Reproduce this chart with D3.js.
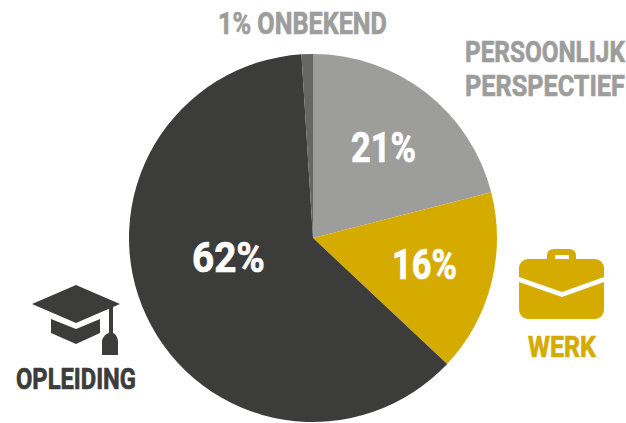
<!DOCTYPE html>
<html>
<head>
<meta charset="utf-8">
<script src="https://cdn.jsdelivr.net/npm/d3@7"></script>
<style>
body { margin: 0; background: #fff; }
text { font-family: "Roboto", "Liberation Sans", sans-serif; font-weight: 700; }
</style>
</head>
<body>
<div id="chart"></div>
<script>
var categories = ["Persoonlijk perspectief", "Werk", "Opleiding", "Onbekend"];
var values = [21, 16, 62, 1];
var pctLabels = ["21%", "16%", "62%", ""];
var colors = ["#9d9d9c", "#d6ab00", "#3c3c3b", "#666665"];

var width = 626, height = 423;
var cx = 313, cy = 238, radius = 184;

var svg = d3.select("#chart").append("svg")
  .attr("width", width)
  .attr("height", height)
  .style("display", "block");

var pie = d3.pie().sort(null).value(function (d) { return d; });
var arc = d3.arc().innerRadius(0).outerRadius(radius);

var g = svg.append("g").attr("transform", "translate(" + cx + "," + cy + ")");

g.selectAll("path")
  .data(pie(values))
  .enter().append("path")
  .attr("d", arc)
  .attr("fill", function (d, i) { return colors[i]; });

// squeeze a text to a given width, the reference font is a condensed one
function label(t, x, y, w, size, fill) {
  var el = svg.append("text")
    .attr("font-size", size)
    .attr("fill", fill)
    .attr("stroke", fill)
    .attr("stroke-width", 0.7)
    .text(t);
  var sx = w / el.node().getComputedTextLength();
  el.attr("transform", "translate(" + x + "," + y + ") scale(" + sx + ",1)");
}

// percent labels inside the slices, placed by hand
label(pctLabels[0], 351, 162, 65, 43, "#fff");
label(pctLabels[1], 392, 279, 65, 43, "#fff");
label(pctLabels[2], 192, 272, 73, 43, "#fff");

label("1% ONBEKEND", 218, 34, 169, 31, "#9d9d9c");
label("PERSOONLIJK", 465, 62, 160, 30, "#9d9d9c");
label("PERSPECTIEF", 465, 96, 160, 30, "#9d9d9c");
label("OPLEIDING", 16, 389, 120, 29, "#3c3c3b");
label("WERK", 528, 357, 68, 29, "#d6ab00");

// graduation cap icon
var cap = svg.append("g").attr("fill", "#3c3c3b");
cap.append("path").attr("d", "M32,304 L76,285 L120,304 L76,323 Z");
cap.append("path").attr("d", "M51,319 L76,329 L100,319 L100,333 L76,344 L51,333 Z");
cap.append("path").attr("d", "M109,306 L113,304 L113,333 C116,334 118,338 118,342 L118,355 L102,355 L102,342 C102,338 105,334 109,333 Z");

// briefcase icon
var brief = svg.append("g");
brief.append("path").attr("fill", "#d6ab00")
  .attr("d", "M547,262 L547,256 Q547,249 554,249 L569,249 Q576,249 576,256 L576,262 L569,262 L569,255 L555,255 L555,262 Z");
brief.append("rect").attr("x", 519).attr("y", 259).attr("width", 85).attr("height", 60).attr("rx", 9).attr("fill", "#d6ab00");
brief.append("path").attr("fill", "#fff").attr("d", "M519,277 L562,292 L604,277 L604,282 L562,297 L519,282 Z");
</script>
</body>
</html>
